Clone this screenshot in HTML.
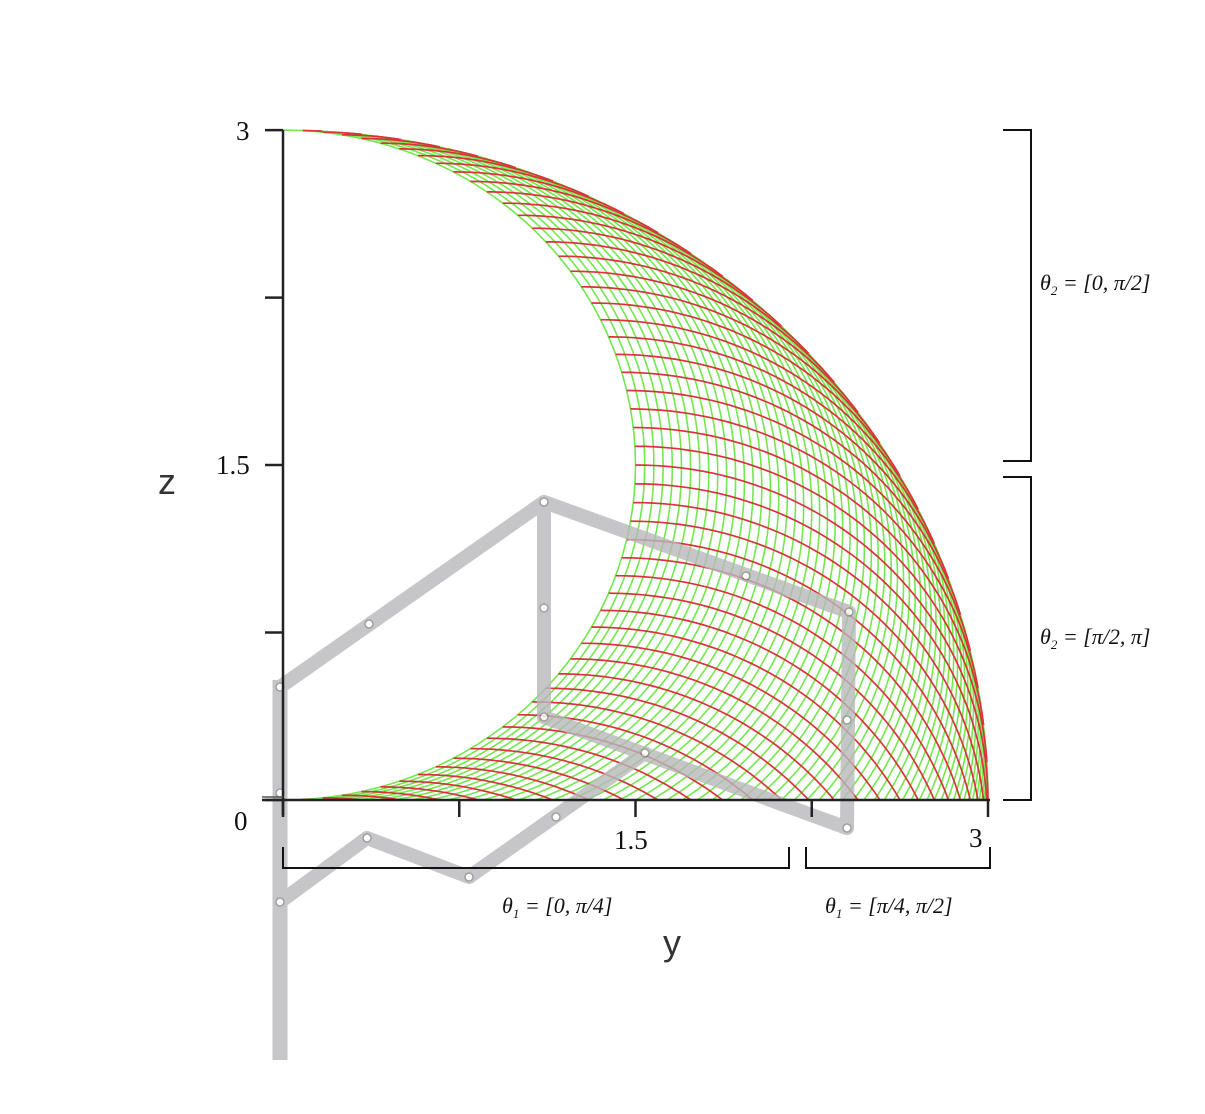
<!DOCTYPE html>
<html><head><meta charset="utf-8"><style>
html,body{margin:0;padding:0;background:#fff;}
svg{display:block;}
.tk{font-family:"Liberation Serif",serif;font-size:27px;fill:#111;}
.lb{font-family:"Liberation Serif",serif;font-style:italic;font-size:22px;fill:#111;}
.ax{font-family:"Liberation Sans",sans-serif;font-size:36px;fill:#333;}
</style></head><body>
<svg id="chart" width="1205" height="1114" viewBox="0 0 1205 1114">
<g id="surface"></g>
<g id="arm" opacity="0.8"></g>
<g id="axes">
<line x1="283" y1="130" x2="283" y2="815" stroke="#222" stroke-width="2.5"/>
<line x1="262" y1="800" x2="990" y2="800" stroke="#222" stroke-width="2.5"/>
<line x1="262" y1="797" x2="283" y2="797" stroke="#555" stroke-width="1.5"/>
</g>
<text class="tk" x="236" y="140">3</text>
<text class="tk" x="216" y="474">1.5</text>
<text class="tk" x="234" y="830">0</text>
<text class="tk" x="614" y="849">1.5</text>
<text class="tk" x="969" y="847">3</text>
<text class="ax" x="158" y="494">z</text>
<text class="ax" x="663" y="955">y</text>
<g fill="none" stroke="#111" stroke-width="2">
<polyline points="1003,130 1031,130 1031,461 1003,461"/>
<polyline points="1003,477 1031,477 1031,800 1003,800"/>
<polyline points="283,847 283,868 789,868 789,847"/>
<polyline points="806,847 806,868 990,868 990,847"/>
</g>
<text class="lb" x="1040" y="290">θ<tspan font-size="13" dy="5">2</tspan><tspan dy="-5"> = [0, π/2]</tspan></text>
<text class="lb" x="1040" y="644">θ<tspan font-size="13" dy="5">2</tspan><tspan dy="-5"> = [π/2, π]</tspan></text>
<text class="lb" x="502" y="913">θ<tspan font-size="13" dy="5">1</tspan><tspan dy="-5"> = [0, π/4]</tspan></text>
<text class="lb" x="825" y="913">θ<tspan font-size="13" dy="5">1</tspan><tspan dy="-5"> = [π/4, π/2]</tspan></text>
</svg>
<script>
const link1 = 1.5, link2 = 1.5;
const theta1Steps = 60;   // green curves: fixed theta1 in [0, pi/2]
const theta2Steps = 56;   // red curves: fixed theta2 in [0, pi]
const zTicks = [0, 0.75, 1.5, 2.25, 3];
const yTicks = [0, 0.75, 1.5, 2.25, 3];
const armJoints = {A:[280,687],B:[369,624],C:[544,502],D:[544,608],E:[544,717],F:[746,576],G:[849,612],H:[847,720],I:[847,828],J:[645,753],K:[556,817],L:[469,877],M:[367,838],N:[280,902],P:[280,793]};
const armLinks = [["A","C"],["C","E"],["C","G"],["G","I"],["E","I"],["J","L"],["L","M"],["M","N"]];

const NS="http://www.w3.org/2000/svg";
const sx = y => 283 + y*235;
const sz = z => 800 - z*223.3;
const surf=document.getElementById('surface');
const axes=document.getElementById('axes');
const endPt=(t1,t2)=>[link1*Math.sin(t1)+link2*Math.sin(t2), link1*Math.cos(t1)+link2*Math.cos(t2)];
function poly(pts,color,w,name){
  const p=document.createElementNS(NS,'polyline');
  p.setAttribute('points',pts.map(q=>sx(q[0]).toFixed(1)+','+sz(q[1]).toFixed(1)).join(' '));
  p.setAttribute('fill','none');p.setAttribute('stroke',color);p.setAttribute('stroke-width',w);
  
  
  surf.appendChild(p);
}
// green: fixed theta1, theta2 from theta1 to pi - theta1
for(let k=0;k<=theta1Steps;k++){
  const t1=k*(Math.PI/2)/theta1Steps;
  const pts=[];
  for(let i=0;i<=70;i++){pts.push(endPt(t1, t1+(Math.PI-2*t1)*i/70));}
  poly(pts,'#72e84c','1.6','theta1-curve');
}
// red: fixed theta2, theta1 from 0 to min(theta2, pi - theta2, pi/2)
for(let k=0;k<=theta2Steps;k++){
  const t2=k*Math.PI/theta2Steps;
  const t1max=Math.min(t2, Math.PI-t2, Math.PI/2);
  if(t1max<=0) continue;
  const pts=[];
  for(let i=0;i<=50;i++){pts.push(endPt(t1max*i/50,t2));}
  poly(pts,'#d9343a','1.7','theta2-curve');
}
zTicks.forEach(v=>{
  const l=document.createElementNS(NS,'line');
  l.setAttribute('x1',265);l.setAttribute('x2',283);l.setAttribute('y1',sz(v));l.setAttribute('y2',sz(v));
  l.setAttribute('stroke','#222');l.setAttribute('stroke-width','2.5');
  
  
  axes.appendChild(l);
});
yTicks.forEach(v=>{
  const l=document.createElementNS(NS,'line');
  l.setAttribute('x1',sx(v));l.setAttribute('x2',sx(v));l.setAttribute('y1',800);l.setAttribute('y2',817);
  l.setAttribute('stroke','#222');l.setAttribute('stroke-width','2.5');
  
  
  axes.appendChild(l);
});
const arm=document.getElementById('arm');
const post=document.createElementNS(NS,'line');
post.setAttribute('x1',280);post.setAttribute('y1',680);post.setAttribute('x2',280);post.setAttribute('y2',1060);
post.setAttribute('stroke','#b8b8bc');post.setAttribute('stroke-width','15');


arm.appendChild(post);
armLinks.forEach(([a,b])=>{
  const l=document.createElementNS(NS,'line');
  l.setAttribute('x1',armJoints[a][0]);l.setAttribute('y1',armJoints[a][1]);
  l.setAttribute('x2',armJoints[b][0]);l.setAttribute('y2',armJoints[b][1]);
  l.setAttribute('stroke','#b8b8bc');l.setAttribute('stroke-width','14');l.setAttribute('stroke-linecap','round');
  
  
  arm.appendChild(l);
});
Object.keys(armJoints).forEach(k=>{
  const c=document.createElementNS(NS,'circle');
  c.setAttribute('cx',armJoints[k][0]);c.setAttribute('cy',armJoints[k][1]);c.setAttribute('r','4');
  c.setAttribute('fill','#fff');c.setAttribute('stroke','#888');c.setAttribute('stroke-width','1.5');
  
  
  arm.appendChild(c);
});
</script>
</body></html>
